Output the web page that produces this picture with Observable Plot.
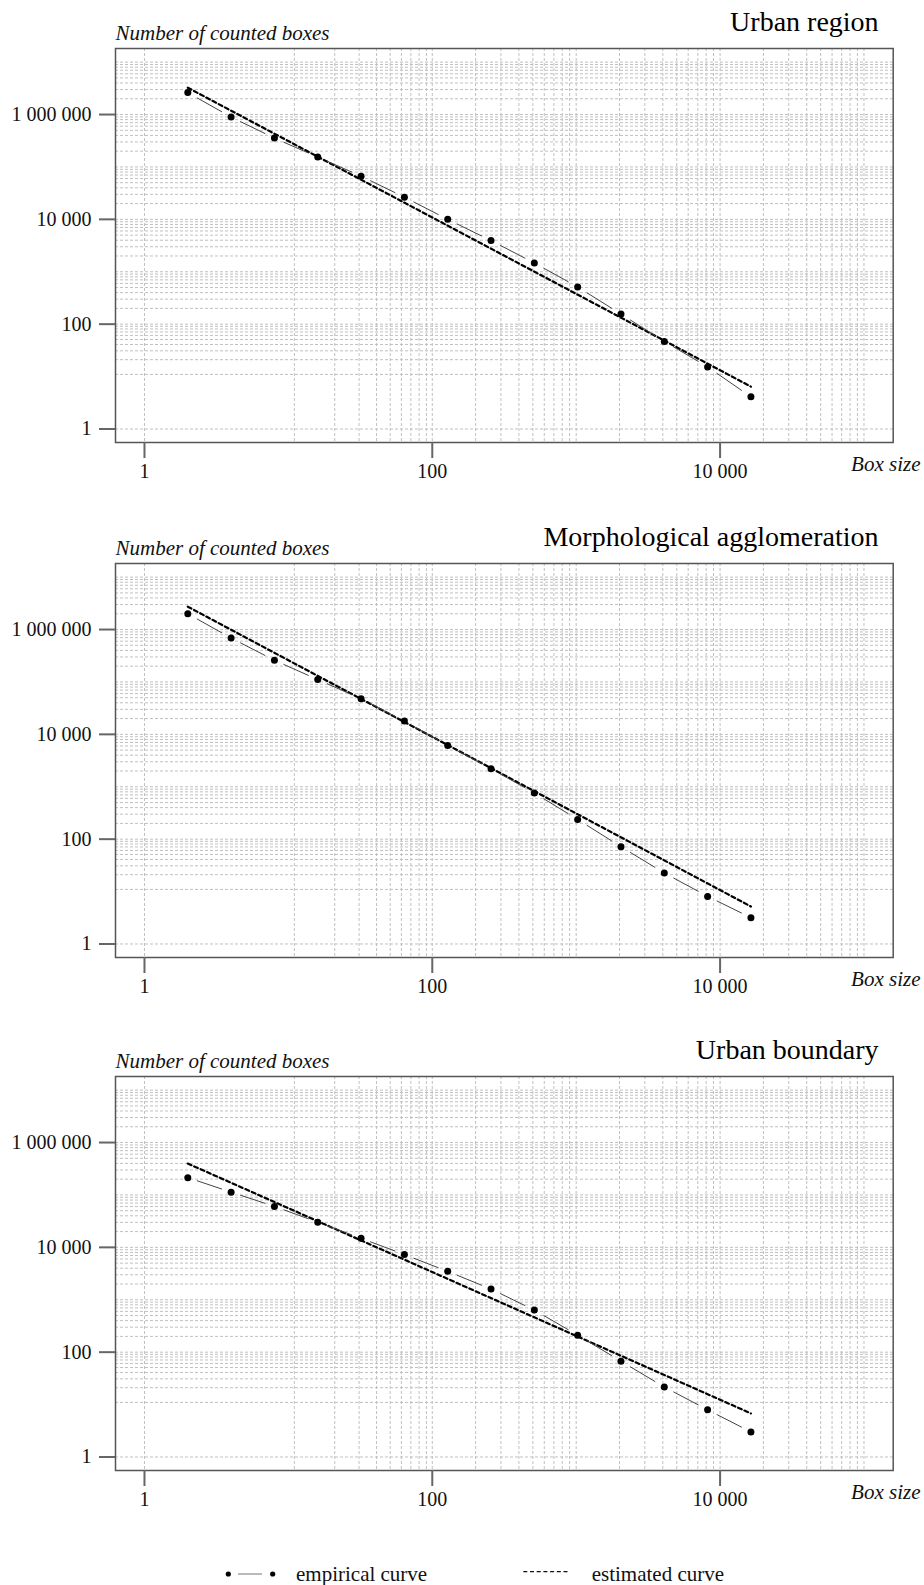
<!DOCTYPE html>
<html><head><meta charset="utf-8">
<script src="https://cdn.jsdelivr.net/npm/d3@7"></script>
<script src="https://cdn.jsdelivr.net/npm/@observablehq/plot@0.6"></script>
<style>
html,body{margin:0;padding:0;background:#fff;}
#page{position:relative;width:924px;height:1585px;overflow:hidden;font-family:"Liberation Serif","Times New Roman",serif;}
#page svg{position:absolute;left:0;}
</style></head><body><div id="page"></div>
<script>
// ---- data ----
const boxSizes = [2, 4, 8, 16, 32, 64, 128, 256, 512, 1024, 2048, 4096, 8192, 16384];
const panelTitles = ["Urban region", "Morphological agglomeration", "Urban boundary"];
const urbanRegionCounts = [2.62e6, 8.96e5, 3.55e5, 1.54e5, 6.67e4, 2.65e4, 1.0e4, 3930, 1470, 512, 156, 46.7, 15.3, 4.1];
const morphAggloCounts = [2.0e6, 6.88e5, 2.59e5, 1.11e5, 4.77e4, 1.79e4, 6130, 2210, 759, 238, 71.6, 22.6, 8.09, 3.18];
const urbanBoundaryCounts = [2.14e5, 1.13e5, 6.04e4, 3.02e4, 1.49e4, 7280, 3480, 1600, 635, 211, 67.1, 21.6, 7.94, 3.01];
const estimatedBoxSizes = [2, 16384];
const urbanRegionEstimated = [3.25e6, 6.43];
const morphAggloEstimated = [2.73e6, 5.19];
const urbanBoundaryEstimated = [3.97e5, 6.78];
const xTickValues = [1, 100, 10000];
const yTickValues = [1, 100, 10000, 1000000];
const xGridValues = [1, 11, 21, 31, 41, 51, 61, 71, 81, 91,
  100, 200, 300, 400, 500, 600, 700, 800, 900,
  1000, 2000, 3000, 4000, 5000, 6000, 7000, 8000, 9000,
  10000, 20000, 30000, 40000, 50000, 60000, 70000, 80000, 90000, 100000];
const yGridValues = [1, 11, 21, 31, 41, 51, 61, 71, 81, 91,
  100, 200, 300, 400, 500, 600, 700, 800, 900,
  1000, 2000, 3000, 4000, 5000, 6000, 7000, 8000, 9000,
  10000, 20000, 30000, 40000, 50000, 60000, 70000, 80000, 90000,
  100000, 200000, 300000, 400000, 500000, 600000, 700000, 800000, 900000,
  1000000, 2000000, 3000000, 4000000, 5000000, 6000000, 7000000, 8000000, 9000000, 10000000];
const axisLabelY = "Number of counted boxes";
const axisLabelX = "Box size";
const legendLabels = ["empirical curve", "estimated curve"];

// ---- layout ----
const xDomain = [0.629, 159600];
const yDomain = [0.552, 1.82e7];
const panelTops = [0, 515, 1027.7];
const FONT = '"Liberation Serif","Times New Roman",serif';
const fmt = v => d3.format(",")(v).replace(/,/g, " ");

const page = document.getElementById("page");
const countsList = [urbanRegionCounts, morphAggloCounts, urbanBoundaryCounts];
const estList = [urbanRegionEstimated, morphAggloEstimated, urbanBoundaryEstimated];

panelTitles.forEach((title, k) => {
  const pts = boxSizes.map((b, i) => ({box: b, count: countsList[k][i]}));
  const segs = pts.slice(0, -1).map((p, i) => ({x1: p.box, y1: p.count, x2: pts[i + 1].box, y2: pts[i + 1].count}));
  const est = estimatedBoxSizes.map((b, i) => ({box: b, count: estList[k][i]}));
  const svg = Plot.plot({
    width: 924, height: 514,
    marginLeft: 115, marginRight: 31.3, marginTop: 48, marginBottom: 72,
    style: {fontFamily: FONT, fontSize: "20px", color: "#111", background: "transparent", overflow: "visible"},
    x: {type: "log", domain: xDomain},
    y: {type: "log", domain: yDomain},
    marks: [
      Plot.ruleX(xGridValues, {stroke: "#c0c0c0", strokeWidth: 1, strokeDasharray: "3,2"}),
      Plot.ruleY(yGridValues, {stroke: "#c0c0c0", strokeWidth: 1, strokeDasharray: "3,2"}),
      Plot.frame({stroke: "#555", strokeWidth: 1.5}),
      Plot.axisX({ticks: xTickValues, tickFormat: fmt, tickSize: 16, tickPadding: 5, stroke: "#666", strokeWidth: 2, fill: "#111", fontSize: 20, label: null}),
      Plot.axisY({ticks: yTickValues, tickFormat: fmt, tickSize: 16, tickPadding: 8, stroke: "#666", strokeWidth: 2, fill: "#111", fontSize: 20, label: null}),
      Plot.line(est, {x: "box", y: "count", stroke: "#000", strokeWidth: 2.2, strokeDasharray: "4,3"}),
      Plot.link(segs, {x1: "x1", y1: "y1", x2: "x2", y2: "y2", stroke: "#444", strokeWidth: 1}),
      Plot.dot(pts, {x: "box", y: "count", r: 3.5, fill: "#000"}),
      Plot.text([title], {text: d => d, frameAnchor: "top-right", textAnchor: "end", lineAnchor: "bottom", dx: -14.6, dy: -17.6, fontSize: 28, fill: "#000"}),
      Plot.text([axisLabelY], {text: d => d, frameAnchor: "top-left", textAnchor: "start", lineAnchor: "bottom", dy: -9, fontSize: 21, fontStyle: "italic", fill: "#111"}),
      Plot.text([axisLabelX], {text: d => d, frameAnchor: "bottom-right", textAnchor: "end", lineAnchor: "bottom", dx: 27.3, dy: 28.3, fontSize: 21, fontStyle: "italic", fill: "#111"})
    ]
  });
  svg.style.top = panelTops[k] + "px";
  svg.querySelectorAll('g[aria-label="link"] path').forEach(p => {
    p.setAttribute("pathLength", "100");
    p.setAttribute("stroke-dasharray", "58 42");
    p.setAttribute("stroke-dashoffset", "-21");
  });
  page.appendChild(svg);
});

// ---- legend ----
const ns = "http://www.w3.org/2000/svg";
const leg = document.createElementNS(ns, "svg");
leg.setAttribute("width", 924); leg.setAttribute("height", 40);
leg.style.top = "1550px";
const mk = (tag, attrs, text) => { const e = document.createElementNS(ns, tag); for (const a in attrs) e.setAttribute(a, attrs[a]); if (text) e.textContent = text; leg.appendChild(e); return e; };
mk("line", {x1: 238, x2: 262, y1: 24, y2: 24, stroke: "#777", "stroke-width": 1});
mk("circle", {cx: 228.3, cy: 24, r: 2.6, fill: "#000"});
mk("circle", {cx: 272.7, cy: 24, r: 2.6, fill: "#000"});
mk("text", {x: 296, y: 31, "font-family": FONT, "font-size": 21, fill: "#111"}, legendLabels[0]);
mk("line", {x1: 523.3, x2: 570, y1: 21.7, y2: 21.7, stroke: "#111", "stroke-width": 1.3, "stroke-dasharray": "4,2.7"});
mk("text", {x: 591.7, y: 31, "font-family": FONT, "font-size": 21, fill: "#111"}, legendLabels[1]);
page.appendChild(leg);
</script></body></html>
